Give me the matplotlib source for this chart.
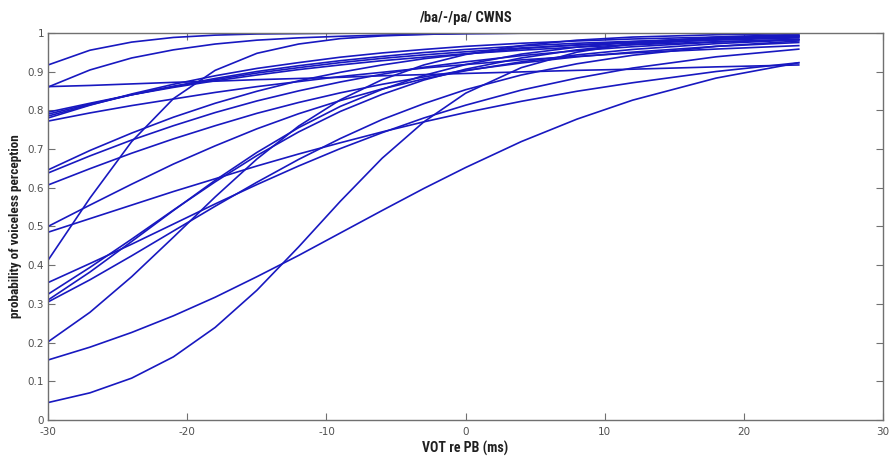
import matplotlib
matplotlib.use("Agg")
import matplotlib.pyplot as plt
from matplotlib import font_manager

# VOT (ms re phoneme boundary) sample positions
vot = [-30, -27, -24, -21, -18, -15, -12, -9, -6, -3, 0, 4, 8, 12, 18, 24]

# probability of voiceless perception, one list per listener curve
c01 = [0.917, 0.955, 0.976, 0.988, 0.994, 0.997, 0.998, 0.999, 0.999, 1.0, 1.0, 1.0, 1.0, 1.0, 1.0, 1.0]
c02 = [0.860, 0.904, 0.935, 0.956, 0.971, 0.981, 0.987, 0.991, 0.994, 0.996, 0.998, 0.999, 0.999, 1.0, 1.0, 1.0]
c03 = [0.861, 0.864, 0.868, 0.872, 0.875, 0.879, 0.882, 0.885, 0.889, 0.892, 0.895, 0.899, 0.903, 0.906, 0.912, 0.917]
c04 = [0.795, 0.818, 0.840, 0.859, 0.876, 0.891, 0.905, 0.917, 0.928, 0.937, 0.946, 0.955, 0.963, 0.969, 0.977, 0.983]
c05 = [0.790, 0.816, 0.840, 0.861, 0.879, 0.896, 0.910, 0.923, 0.934, 0.943, 0.951, 0.961, 0.968, 0.974, 0.981, 0.987]
c06 = [0.785, 0.814, 0.840, 0.862, 0.882, 0.900, 0.915, 0.928, 0.939, 0.949, 0.957, 0.966, 0.973, 0.978, 0.985, 0.989]
c07 = [0.780, 0.813, 0.842, 0.867, 0.889, 0.908, 0.923, 0.937, 0.948, 0.957, 0.965, 0.973, 0.979, 0.984, 0.989, 0.993]
c08 = [0.772, 0.793, 0.812, 0.829, 0.846, 0.861, 0.874, 0.887, 0.898, 0.909, 0.918, 0.930, 0.939, 0.948, 0.958, 0.967]
c09 = [0.646, 0.696, 0.741, 0.782, 0.818, 0.849, 0.876, 0.898, 0.917, 0.933, 0.945, 0.959, 0.969, 0.977, 0.985, 0.991]
c10 = [0.638, 0.682, 0.723, 0.760, 0.794, 0.824, 0.850, 0.873, 0.893, 0.911, 0.925, 0.941, 0.954, 0.964, 0.976, 0.983]
c11 = [0.607, 0.649, 0.689, 0.726, 0.760, 0.792, 0.820, 0.845, 0.867, 0.886, 0.903, 0.922, 0.938, 0.950, 0.965, 0.975]
c12 = [0.500, 0.555, 0.609, 0.661, 0.708, 0.752, 0.791, 0.825, 0.855, 0.881, 0.902, 0.925, 0.943, 0.957, 0.972, 0.982]
c13 = [0.485, 0.520, 0.555, 0.590, 0.623, 0.656, 0.687, 0.716, 0.744, 0.770, 0.794, 0.823, 0.849, 0.871, 0.900, 0.923]
c14 = [0.413, 0.573, 0.719, 0.830, 0.903, 0.947, 0.971, 0.985, 0.992, 0.996, 0.998, 0.999, 0.999, 1.0, 1.0, 1.0]
c15 = [0.355, 0.404, 0.454, 0.506, 0.558, 0.608, 0.656, 0.701, 0.742, 0.780, 0.813, 0.852, 0.883, 0.909, 0.938, 0.958]
c16 = [0.325, 0.394, 0.467, 0.542, 0.615, 0.683, 0.744, 0.797, 0.841, 0.878, 0.906, 0.935, 0.956, 0.970, 0.983, 0.991]
c17 = [0.310, 0.382, 0.461, 0.541, 0.619, 0.691, 0.755, 0.810, 0.854, 0.890, 0.918, 0.945, 0.963, 0.976, 0.987, 0.993]
c18 = [0.305, 0.362, 0.424, 0.488, 0.552, 0.614, 0.673, 0.727, 0.776, 0.817, 0.853, 0.891, 0.920, 0.942, 0.965, 0.979]
c19 = [0.202, 0.278, 0.370, 0.472, 0.576, 0.674, 0.759, 0.827, 0.879, 0.917, 0.944, 0.967, 0.981, 0.989, 0.995, 0.998]
c20 = [0.155, 0.188, 0.226, 0.269, 0.317, 0.370, 0.425, 0.483, 0.541, 0.598, 0.652, 0.719, 0.777, 0.826, 0.883, 0.923]
c21 = [0.045, 0.070, 0.108, 0.163, 0.239, 0.335, 0.447, 0.565, 0.676, 0.770, 0.844, 0.910, 0.950, 0.973, 0.989, 0.996]

curves = [c01, c02, c03, c04, c05, c06, c07, c08, c09, c10, c11,
          c12, c13, c14, c15, c16, c17, c18, c19, c20, c21]

x_ticks = [-30, -20, -10, 0, 10, 20, 30]
y_ticks = [0, 0.1, 0.2, 0.3, 0.4, 0.5, 0.6, 0.7, 0.8, 0.9, 1]
y_tick_labels = ["0", "0.1", "0.2", "0.3", "0.4", "0.5", "0.6", "0.7", "0.8", "0.9", "1"]

title = "/ba/-/pa/ CWNS"
xlabel = "VOT re PB (ms)"
ylabel = "probability of voiceless perception"

# pick a narrow bold family if one is installed
installed = {f.name for f in font_manager.fontManager.ttflist}
narrow = [n for n in ["Liberation Sans Narrow", "DejaVu Sans Condensed", "Roboto Condensed",
                      "Open Sans Condensed"] if n in installed] + ["DejaVu Sans"]

fig = plt.figure(figsize=(8.92, 4.62), dpi=100)
ax = fig.add_axes([0.054, 0.091, 0.936, 0.838])

for c in curves:
    ax.plot(vot, c, color="#1818c0", linewidth=1.2, solid_capstyle="butt")

ax.set_xlim(-30, 30)
ax.set_ylim(0, 1)
ax.set_xticks(x_ticks)
ax.set_xticklabels([str(t) for t in x_ticks])
ax.set_yticks(y_ticks)
ax.set_yticklabels(y_tick_labels)
ax.tick_params(direction="in", length=5, width=0.8, colors="#707070",
               labelcolor="#505050", labelsize=7.5, top=True, right=True)
ax.tick_params(axis="x", pad=5)
ax.tick_params(axis="y", pad=3)
for s in ax.spines.values():
    s.set_color("#707070")
    s.set_linewidth(1.0)

txt = dict(fontweight="bold", family=narrow, fontstretch="condensed", color="#202020")
ax.set_title(title, fontsize=10.5, pad=8, **txt)
ax.set_xlabel(xlabel, fontsize=10, labelpad=3, **txt)
ax.set_ylabel(ylabel, fontsize=9.5, labelpad=4, **txt)

fig.savefig("out.png", dpi=100, facecolor="white")
